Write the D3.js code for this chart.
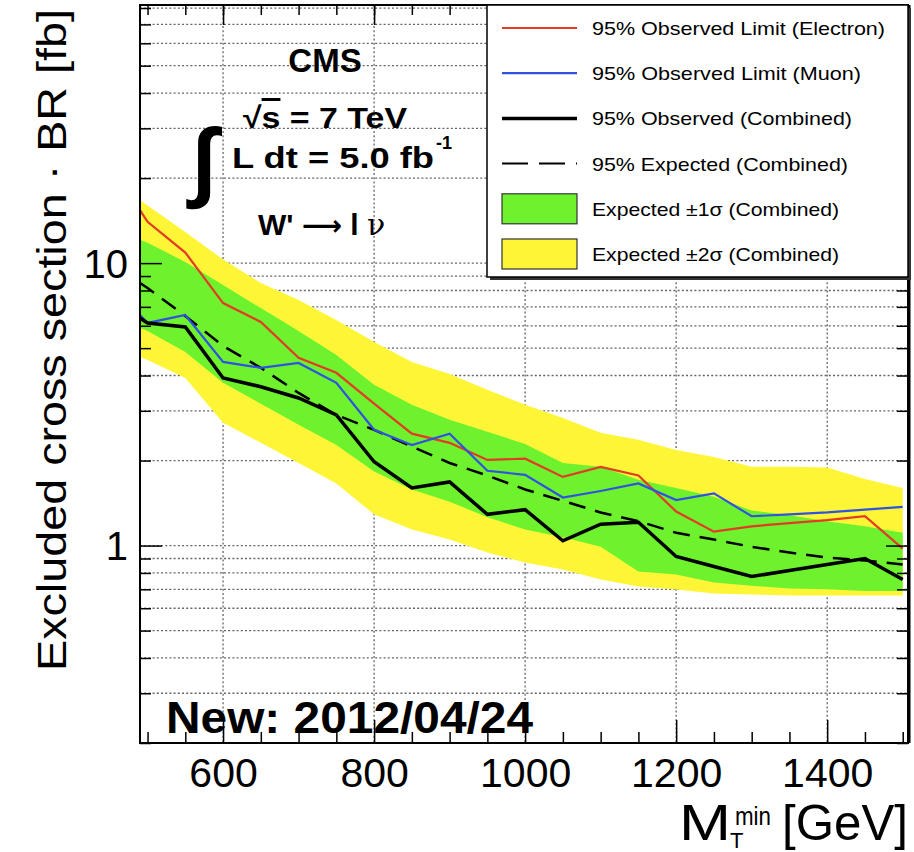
<!DOCTYPE html>
<html>
<head>
    <meta charset="utf-8">
    <title>W' to l nu excluded cross section</title>
    <script src="https://d3js.org/d3.v7.min.js"></script>
    <style>
        body { margin: 0; background: #fff; }
        svg text { font-family: "Liberation Sans", Arial, Helvetica, sans-serif; fill: #000; }
        .grid line { stroke: #666; stroke-width: 1.3; stroke-dasharray: 2,2.2; }
        .axis path { display: none; }
        .axis line { stroke: #000; stroke-width: 1.5; }
    </style>
</head>
<body>
<svg width="914" height="852"></svg>
<script>
    // mass thresholds (GeV)
    var massPoints = [490, 500, 550, 600, 650, 700, 750, 800, 850, 900, 950, 1000,
                      1050, 1100, 1150, 1200, 1250, 1300, 1350, 1400, 1450, 1500];

    // 95% observed limits (fb)
    var obsElectron = [15.4, 14.0, 10.9, 7.22, 6.19, 4.62, 4.09, 3.18, 2.49, 2.31, 2.01, 2.03,
                       1.75, 1.90, 1.77, 1.32, 1.12, 1.17, 1.20, 1.23, 1.27, 0.976];
    var obsMuon = [6.55, 6.14, 6.55, 4.47, 4.26, 4.43, 3.77, 2.57, 2.27, 2.49, 1.84, 1.78,
                   1.48, 1.56, 1.66, 1.45, 1.53, 1.27, 1.29, 1.31, 1.34, 1.37];
    var obsCombined = [6.39, 6.14, 5.94, 3.92, 3.65, 3.33, 2.90, 1.98, 1.60, 1.68, 1.29, 1.34,
                       1.04, 1.19, 1.21, 0.915, 0.843, 0.777, 0.816, 0.857, 0.90, 0.758];
    var expCombined = [8.5, 8.16, 6.5, 5.09, 4.26, 3.47, 2.90, 2.57, 2.24, 1.96, 1.77, 1.58,
                       1.44, 1.31, 1.22, 1.11, 1.05, 0.99, 0.945, 0.907, 0.885, 0.857];

    // expected bands
    var sigma1Low = [5.89, 5.75, 4.85, 3.77, 3.18, 2.68, 2.27, 1.83, 1.58, 1.43, 1.26, 1.14,
                     1.07, 0.99, 0.81, 0.79, 0.74, 0.72, 0.705, 0.70, 0.69, 0.69];
    var sigma1High = [12.1, 11.8, 10.1, 8.36, 6.93, 5.75, 4.73, 3.71, 3.15, 2.79, 2.53, 2.29,
                      1.96, 1.90, 1.71, 1.60, 1.49, 1.33, 1.28, 1.22, 1.17, 1.11];
    var sigma2Low = [4.65, 4.54, 3.92, 2.72, 2.31, 1.96, 1.66, 1.29, 1.14, 1.05, 0.945, 0.871,
                     0.823, 0.758, 0.716, 0.699, 0.677, 0.671, 0.666, 0.666, 0.666, 0.666];
    var sigma2High = [16.7, 16.0, 12.9, 10.3, 8.5, 7.4, 6.29, 5.26, 4.47, 4.05, 3.56, 3.15,
                      2.83, 2.51, 2.37, 2.18, 2.06, 1.90, 1.90, 1.89, 1.72, 1.60];

    // ticks
    var xMajorTicks = [600, 800, 1000, 1200, 1400];
    var xMinorTicks = d3.range(500, 1501, 50);
    var yMajorTicks = [1, 10];
    var yMinorTicks = [0.2, 0.3, 0.4, 0.5, 0.6, 0.7, 0.8, 0.9, 2, 3, 4, 5, 6, 7, 8, 9,
                       20, 30, 40, 50, 60, 70, 80];

    var legendLabels = ["95% Observed Limit (Electron)", "95% Observed Limit (Muon)",
                        "95% Observed (Combined)", "95% Expected (Combined)",
                        "Expected \u00b11\u03c3 (Combined)", "Expected \u00b12\u03c3 (Combined)"];

    var colYellow = "#fff537", colGreen = "#6ef22d";
    var colRed = "#e23b26", colBlue = "#2f52e0";

    var frameL = 140, frameR = 908, frameT = 5, frameB = 743;

    var svg = d3.select("svg");
    svg.append("rect").attr("width", 914).attr("height", 852).attr("fill", "#fff");

    var x = d3.scaleLinear().domain([490, 1507]).range([frameL, frameR]);
    var y = d3.scaleLog().domain([0.2, 82]).range([frameB, frameT]);

    svg.append("defs").append("clipPath").attr("id", "plotClip")
        .append("rect").attr("x", frameL).attr("y", frameT)
        .attr("width", frameR - frameL).attr("height", frameB - frameT);

    // dotted grid
    var grid = svg.append("g").attr("class", "grid");
    grid.selectAll(".gy").data(yMajorTicks.concat(yMinorTicks)).enter().append("line")
        .attr("x1", frameL).attr("x2", frameR)
        .attr("y1", function(d) { return y(d); }).attr("y2", function(d) { return y(d); });
    grid.selectAll(".gx").data(xMajorTicks).enter().append("line")
        .attr("y1", frameT).attr("y2", frameB)
        .attr("x1", function(d) { return x(d); }).attr("x2", function(d) { return x(d); });

    var rows = massPoints.map(function(m, i) {
        return { m: m, e: obsElectron[i], mu: obsMuon[i], obs: obsCombined[i], exp: expCombined[i],
                 s1l: sigma1Low[i], s1h: sigma1High[i], s2l: sigma2Low[i], s2h: sigma2High[i] };
    });

    var plot = svg.append("g").attr("clip-path", "url(#plotClip)");

    function band(lo, hi) {
        return d3.area().x(function(d) { return x(d.m); })
            .y0(function(d) { return y(d[lo]); })
            .y1(function(d) { return y(d[hi]); });
    }
    function curve(key) {
        return d3.line().x(function(d) { return x(d.m); }).y(function(d) { return y(d[key]); });
    }

    plot.append("path").datum(rows).attr("d", band("s2l", "s2h")).attr("fill", colYellow);
    plot.append("path").datum(rows).attr("d", band("s1l", "s1h")).attr("fill", colGreen);

    plot.append("path").datum(rows).attr("d", curve("exp"))
        .attr("fill", "none").attr("stroke", "#000").attr("stroke-width", 2.5)
        .attr("stroke-dasharray", "17,10");
    plot.append("path").datum(rows).attr("d", curve("e"))
        .attr("fill", "none").attr("stroke", colRed).attr("stroke-width", 2.2);
    plot.append("path").datum(rows).attr("d", curve("mu"))
        .attr("fill", "none").attr("stroke", colBlue).attr("stroke-width", 2.2);
    plot.append("path").datum(rows).attr("d", curve("obs"))
        .attr("fill", "none").attr("stroke", "#000").attr("stroke-width", 3.5);

    // axes with inward ticks
    function addAxis(axisFn, transform, values, size, labels) {
        var a = axisFn.tickValues(values).tickSize(-size).tickSizeOuter(0);
        a.tickFormat(labels ? d3.format("d") : "");
        return svg.append("g").attr("class", "axis").attr("transform", transform).call(a);
    }
    var xb = addAxis(d3.axisBottom(x), "translate(0," + frameB + ")", xMajorTicks, 23, true);
    xb.selectAll("text").attr("font-size", 41).attr("dy", "0").attr("y", 44);
    addAxis(d3.axisBottom(x), "translate(0," + frameB + ")", xMinorTicks.filter(function(d) { return xMajorTicks.indexOf(d) < 0; }), 11, false);
    addAxis(d3.axisTop(x), "translate(0," + frameT + ")", xMajorTicks, 20, false);
    addAxis(d3.axisTop(x), "translate(0," + frameT + ")", xMinorTicks, 10, false);

    var yl = addAxis(d3.axisLeft(y), "translate(" + frameL + ",0)", yMajorTicks, 22, true);
    yl.selectAll("text").attr("font-size", 40).attr("x", -12).attr("dy", "0.36em");
    addAxis(d3.axisLeft(y), "translate(" + frameL + ",0)", yMinorTicks, 11, false);
    addAxis(d3.axisRight(y), "translate(" + frameR + ",0)", yMajorTicks, 22, false);
    addAxis(d3.axisRight(y), "translate(" + frameR + ",0)", yMinorTicks, 11, false);

    // frame
    svg.append("rect").attr("x", frameL).attr("y", frameT)
        .attr("width", frameR - frameL).attr("height", frameB - frameT)
        .attr("fill", "none").attr("stroke", "#000").attr("stroke-width", 2);
    svg.append("line").attr("x1", frameR + 1).attr("x2", frameR + 1)
        .attr("y1", frameT).attr("y2", frameB).attr("stroke", "#000").attr("stroke-width", 3);

    // axis titles
    svg.append("text")
        .attr("transform", "translate(66,340) rotate(-90)")
        .attr("text-anchor", "middle").attr("font-size", 41)
        .attr("textLength", 662).attr("lengthAdjust", "spacingAndGlyphs")
        .text("Excluded cross section \u00b7 BR [fb]");
    svg.append("text").attr("x", 679).attr("y", 840).attr("font-size", 50)
        .attr("textLength", 52).attr("lengthAdjust", "spacingAndGlyphs").text("M");
    svg.append("text").attr("x", 735).attr("y", 825).attr("font-size", 26)
        .attr("textLength", 36).attr("lengthAdjust", "spacingAndGlyphs").text("min");
    svg.append("text").attr("x", 730).attr("y", 848).attr("font-size", 22).text("T");
    svg.append("text").attr("x", 908).attr("y", 840).attr("font-size", 50)
        .attr("text-anchor", "end")
        .attr("textLength", 126).attr("lengthAdjust", "spacingAndGlyphs").text("[GeV]");

    // legend
    var legend = svg.append("g");
    legend.append("rect").attr("x", 490).attr("y", 8).attr("width", 421).attr("height", 272)
        .attr("fill", "#333");
    legend.append("rect").attr("x", 487).attr("y", 5).attr("width", 421).attr("height", 272)
        .attr("fill", "#fff").attr("stroke", "#000").attr("stroke-width", 1.5);

    var legendRowY = d3.scalePoint().domain(d3.range(legendLabels.length)).range([28, 254]);
    var sym = [
        { type: "line", color: colRed, width: 2.2 },
        { type: "line", color: colBlue, width: 2.2 },
        { type: "line", color: "#000", width: 3.5 },
        { type: "dash", color: "#000", width: 2 },
        { type: "box", color: colGreen },
        { type: "box", color: colYellow }
    ];
    var legendWidths = [293, 269, 260, 256, 247, 247];
    legendLabels.forEach(function(lab, i) {
        var cy = legendRowY(i);
        var s = sym[i];
        if (s.type === "box") {
            legend.append("rect").attr("x", 502).attr("y", cy - 15).attr("width", 75).attr("height", 30)
                .attr("fill", s.color).attr("stroke", "#333").attr("stroke-width", 1.2);
        } else {
            legend.append("line").attr("x1", 502).attr("x2", 577).attr("y1", cy).attr("y2", cy)
                .attr("stroke", s.color).attr("stroke-width", s.width)
                .attr("stroke-dasharray", s.type === "dash" ? "26,11" : null);
        }
        legend.append("text").attr("x", 592).attr("y", cy + 7).attr("font-size", 19)
            .attr("textLength", legendWidths[i]).attr("lengthAdjust", "spacingAndGlyphs")
            .text(lab);
    });

    // annotations
    svg.append("text").attr("x", 325).attr("y", 72).attr("text-anchor", "middle")
        .attr("font-size", 33).attr("font-weight", "bold").text("CMS");

    var rs = svg.append("text").attr("x", 243).attr("y", 128).attr("font-size", 30)
        .attr("font-weight", "bold").attr("textLength", 164).attr("lengthAdjust", "spacingAndGlyphs");
    rs.append("tspan").text("\u221a");
    rs.append("tspan").attr("text-decoration", "overline").text("s");
    rs.append("tspan").text(" = 7 TeV");

    svg.append("text").attr("x", 192).attr("y", 190).attr("font-size", 88)
        .attr("font-family", "DejaVu Sans").attr("font-weight", "bold").text("\u222b");

    svg.append("text").attr("x", 232).attr("y", 168).attr("font-size", 30)
        .attr("font-weight", "bold").attr("textLength", 202).attr("lengthAdjust", "spacingAndGlyphs")
        .text("L dt = 5.0 fb");
    svg.append("text").attr("x", 436).attr("y", 149).attr("font-size", 18)
        .attr("font-weight", "bold").text("-1");

    var wl = svg.append("text").attr("x", 258).attr("y", 235).attr("font-size", 30)
        .attr("font-weight", "bold");
    wl.append("tspan").text("W' ");
    wl.append("tspan").attr("font-family", "DejaVu Sans").attr("font-size", 28).text("\u27f6");
    wl.append("tspan").text(" l ");
    wl.append("tspan").attr("font-weight", "normal").attr("font-family", "DejaVu Serif").text("\u03bd");

    svg.append("text").attr("x", 166).attr("y", 733).attr("font-size", 44)
        .attr("font-weight", "bold").attr("textLength", 367).attr("lengthAdjust", "spacingAndGlyphs")
        .text("New: 2012/04/24");
</script>
</body>
</html>
